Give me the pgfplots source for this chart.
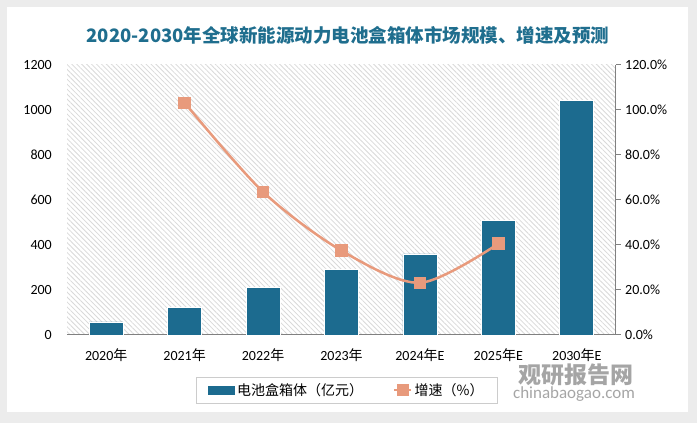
\documentclass[border=0pt]{standalone}
\usepackage{fontspec}
\setmainfont{Carlito}
\newfontfamily\cjk{Noto Sans CJK SC}
\usepackage{pgfplots}
\pgfplotsset{compat=1.18}
\usetikzlibrary{patterns.meta}

\definecolor{barc}{HTML}{1C6B8F}
\definecolor{linec}{HTML}{E89A7C}
\definecolor{titlec}{HTML}{1F6E8E}

\begin{document}
\begin{tikzpicture}[x=1pt,y=1pt]
% card and hatched plot area
\fill[gray!15] (0,0) rectangle (697,423);
\fill[white] (7,11) rectangle (688,416);
\fill[pattern={Lines[angle=-45,distance=3.5pt,line width=0.8pt]},pattern color=gray!30] (67,88) rectangle (616,358);

\node[font=\cjk\bfseries\fontsize{18.5}{22}\selectfont, text=titlec] at (348,388) {2020-2030年全球新能源动力电池盒箱体市场规模、增速及预测};

\begin{axis}[
    at={(67pt,88pt)}, anchor=south west,
    scale only axis, width=549pt, height=270pt,
    xmin=-0.5, xmax=6.5,
    ymin=0, ymax=1200,
    ytick={0,200,...,1200},
    xtick={0,...,6},
    xticklabels={{2020{\cjk 年}},{2021{\cjk 年}},{2022{\cjk 年}},{2023{\cjk 年}},{2024{\cjk 年}E},{2025{\cjk 年}E},{2030{\cjk 年}E}},
    axis x line*=bottom, axis y line*=left,
    x axis line style={gray, line width=1pt, -},
    y axis line style={draw=none},
    major tick length=0pt,
    /pgf/number format/assume math mode=true,
    /pgf/number format/1000 sep={},
    ticklabel style={font=\fontsize{14}{16}\selectfont},
    yticklabel style={inner sep=0pt, xshift=-15pt},
    xticklabel style={inner sep=0pt, yshift=-13pt},
]
\addplot[ybar, bar width=34pt, bar shift=0pt, fill=barc, draw=white, line width=0.8pt]
    coordinates {(0,58)(1,124)(2,213)(3,293)(4,360)(5,511)(6,1041)};
\end{axis}

\begin{axis}[
    at={(67pt,88pt)}, anchor=south west,
    scale only axis, width=549pt, height=270pt,
    xmin=-0.5, xmax=6.5,
    ymin=0, ymax=120,
    ytick={0,20,...,120},
    axis y line*=right, axis x line=none,
    y axis line style={gray, line width=1pt, -},
    ytick style={gray, line width=1pt},
    ytick align=outside, major tick length=5pt,
    /pgf/number format/assume math mode=true,
    yticklabel={\pgfmathprintnumber[fixed,fixed zerofill,precision=1]{\tick}\%},
    ticklabel style={font=\fontsize{14}{16}\selectfont},
    yticklabel style={inner sep=0pt, xshift=4pt},
    legend style={at={(0.51,-0.204)}, anchor=center, legend columns=2,
        draw=gray!40, line width=0.6pt, font=\cjk\fontsize{14}{16}\selectfont,
        inner xsep=12pt, inner ysep=4pt,
        /tikz/every even column/.append style={column sep=28pt}},
    legend cell align=left,
]
\addlegendimage{legend image code/.code={\fill[barc] (0pt,-4pt) rectangle (26pt,4pt);}}
\addlegendentry{电池盒箱体（亿元）}
\addplot[smooth, color=linec, line width=2.5pt, mark=square*, mark size=5pt,
    mark options={fill=linec, draw=linec}]
    coordinates {(1,103.2)(2,63.6)(3,37.5)(4,23.2)(5,40.6)};
\addlegendentry{增速（\%）}
\end{axis}

% watermark
\node[font=\cjk\bfseries\fontsize{23}{25}\selectfont, text=gray, opacity=0.7] at (576,48) {观研报告网};
\node[font=\fontsize{17}{19}\selectfont, text=gray, opacity=0.7] at (574,29) {chinabaogao.com};
\end{tikzpicture}
\end{document}
